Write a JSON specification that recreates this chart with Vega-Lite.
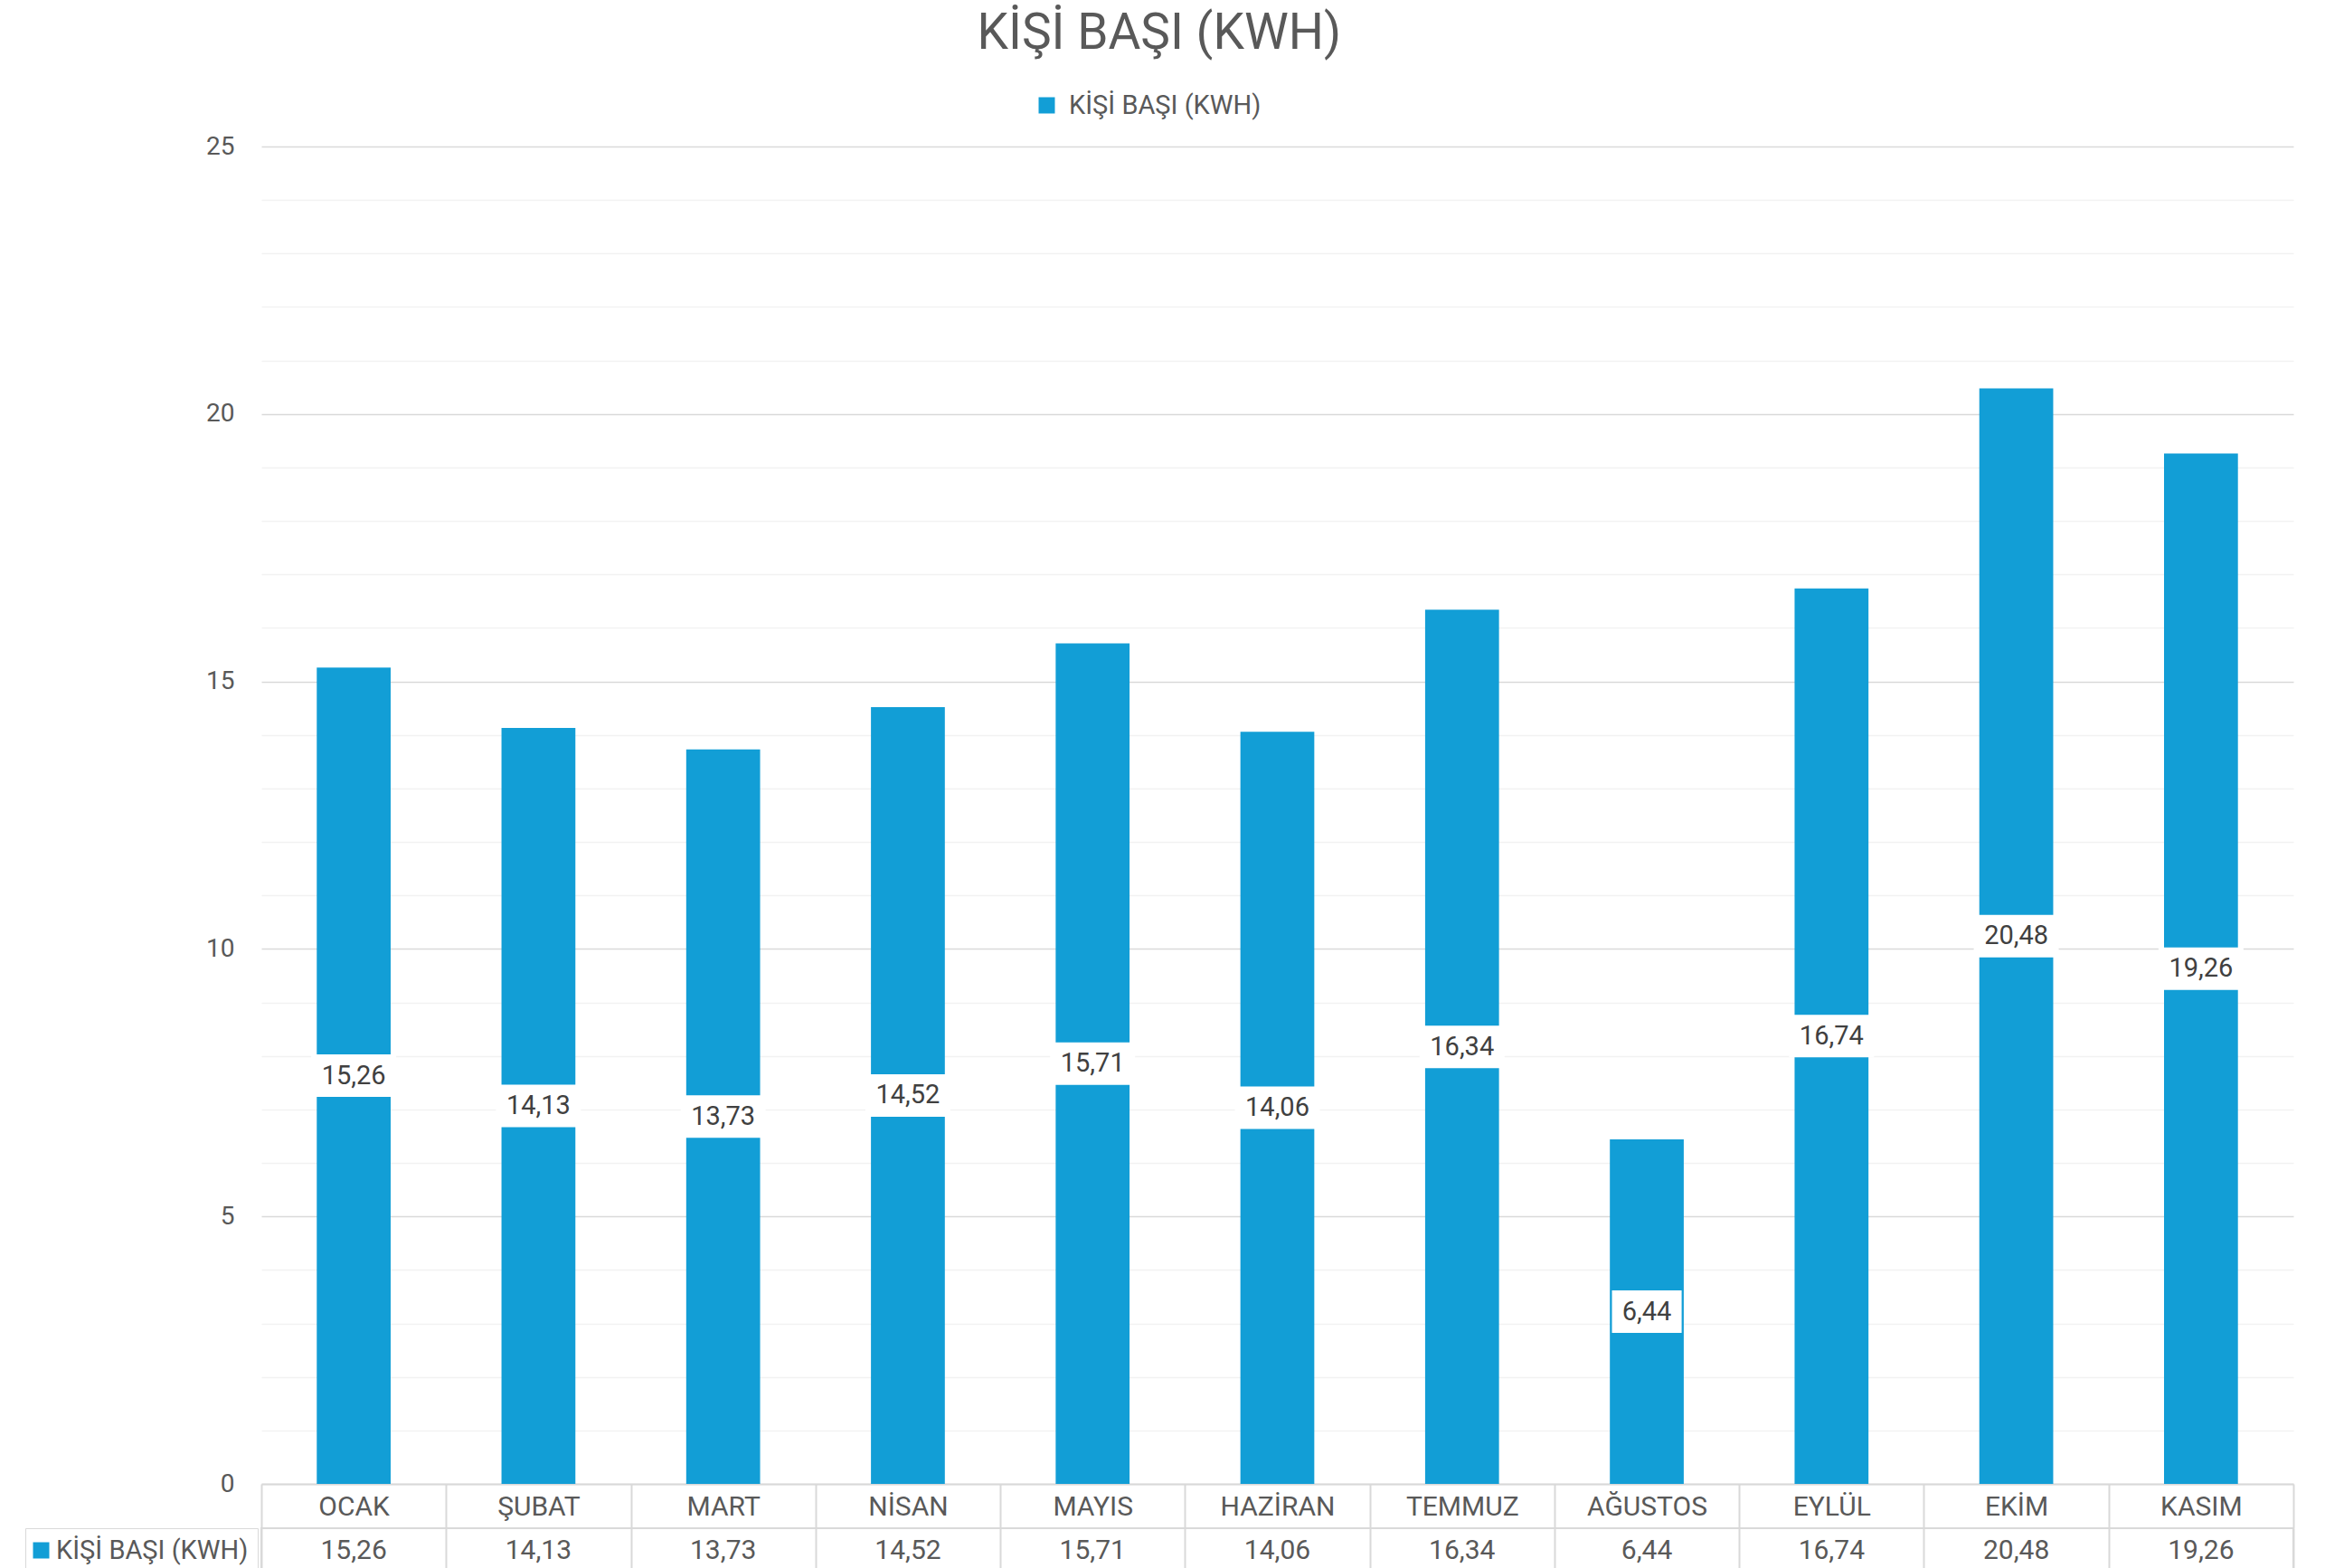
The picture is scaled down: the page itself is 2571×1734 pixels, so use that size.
{
  "$schema": "https://vega.github.io/schema/vega-lite/v6.json",
  "autosize": {"type": "pad"},
  "padding": {"left": 26, "top": 10, "right": 36, "bottom": 0},
  "background": "white",
  "title": {"text": "KİŞİ BAŞI (KWH)", "font": "Roboto", "fontSize": 55, "fontWeight": "normal", "color": "#595959", "anchor": "middle", "baseline": "alphabetic", "offset": -7},
  "data": {"values": [
    {"m": "OCAK", "v": 15.26, "s": "KİŞİ BAŞI (KWH)"},
    {"m": "ŞUBAT", "v": 14.13, "s": "KİŞİ BAŞI (KWH)"},
    {"m": "MART", "v": 13.73, "s": "KİŞİ BAŞI (KWH)"},
    {"m": "NİSAN", "v": 14.52, "s": "KİŞİ BAŞI (KWH)"},
    {"m": "MAYIS", "v": 15.71, "s": "KİŞİ BAŞI (KWH)"},
    {"m": "HAZİRAN", "v": 14.06, "s": "KİŞİ BAŞI (KWH)"},
    {"m": "TEMMUZ", "v": 16.34, "s": "KİŞİ BAŞI (KWH)"},
    {"m": "AĞUSTOS", "v": 6.44, "s": "KİŞİ BAŞI (KWH)"},
    {"m": "EYLÜL", "v": 16.74, "s": "KİŞİ BAŞI (KWH)"},
    {"m": "EKİM", "v": 20.48, "s": "KİŞİ BAŞI (KWH)"},
    {"m": "KASIM", "v": 19.26, "s": "KİŞİ BAŞI (KWH)"}
  ]},
  "spacing": 49,
  "bounds": "flush",
  "resolve": {"legend": {"color": "independent"}},
  "vconcat": [
    {
      "width": 2247,
      "height": 1479,
      "view": {"stroke": null},
      "encoding": {
        "x": {"field": "m", "type": "nominal", "sort": null,
          "scale": {"paddingInner": 0, "paddingOuter": 0},
          "axis": {"title": null, "labelAngle": 0, "labelFont": "Roboto", "labelFontSize": 30, "labelColor": "#595959", "labelBaseline": "middle", "labelPadding": -24, "domainColor": "#D9D9D9", "domainWidth": 2, "tickColor": "#D9D9D9", "tickWidth": 2, "tickSize": 49, "tickBand": "extent", "grid": false}}
      },
      "layer": [
        {
          "mark": {"type": "bar", "width": {"band": 0.4}},
          "encoding": {
            "y": {"field": "v", "type": "quantitative", "scale": {"domain": [0, 25], "nice": false},
              "axis": {"title": null, "values": [0,1,2,3,4,5,6,7,8,9,10,11,12,13,14,15,16,17,18,19,20,21,22,23,24,25],
                "labelExpr": "datum.value % 5 === 0 ? datum.label : ''", "labelOverlap": false, "labelFlush": false,
                "labelFont": "Roboto", "labelFontSize": 28, "labelColor": "#595959", "labelPadding": 30,
                "ticks": false, "domain": false, "grid": true, "gridWidth": 1.5,
                "gridColor": {"condition": {"test": "datum.value % 5 === 0", "value": "#D9D9D9"}, "value": "#F2F2F2"}}},
            "color": {"field": "s", "type": "nominal", "scale": {"range": ["#129ED6"]},
              "legend": {"title": null, "orient": "none", "legendX": 854, "legendY": -60, "padding": 0,
                "symbolType": "square", "symbolSize": 324, "symbolStrokeWidth": 0, "labelLimit": 400,
                "labelFont": "Roboto", "labelFontSize": 29, "labelColor": "#595959", "labelOffset": 10}}
          }
        },
        {
          "mark": {"type": "point", "filled": true, "color": "white", "opacity": 1, "strokeWidth": 0, "size": 8836},
          "encoding": {
            "y": {"field": "v", "type": "quantitative", "scale": {"domain": [0, 50], "nice": false}, "axis": null},
            "shape": {"condition": {"test": "datum.v < 10", "value": "M-0.82,-0.5H0.82V0.5H-0.82Z"}, "value": "M-1,-0.5H1V0.5H-1Z"}
          }
        },
        {
          "mark": {"type": "text", "font": "Roboto", "fontSize": 29, "color": "#404040", "baseline": "middle"},
          "encoding": {
            "y": {"field": "v", "type": "quantitative", "scale": {"domain": [0, 50], "nice": false}, "axis": null},
            "text": {"field": "v", "type": "quantitative", "format": ".2f"}
          }
        }
      ],
      "resolve": {"scale": {"y": "independent"}}
    },
    {
      "width": 2247,
      "height": 49,
      "view": {"stroke": "#D9D9D9", "strokeWidth": 2},
      "encoding": {
        "x": {"field": "m", "type": "nominal", "sort": null,
          "scale": {"paddingInner": 0, "paddingOuter": 0},
          "axis": {"title": null, "labels": false, "ticks": false, "domain": false, "grid": true, "tickBand": "extent", "gridColor": "#D9D9D9", "gridWidth": 2}}
      },
      "layer": [
        {
          "mark": {"type": "text", "font": "Roboto", "fontSize": 30, "color": "#595959", "baseline": "middle"},
          "encoding": {
            "text": {"field": "v", "type": "quantitative", "format": ".2f"}
          }
        },
        {
          "mark": {"type": "point", "filled": true, "size": 0},
          "encoding": {
            "color": {"field": "s", "type": "nominal", "scale": {"range": ["#129ED6"]},
              "legend": {"title": null, "orient": "none", "legendX": -261, "legendY": 0, "padding": 10,
                "strokeColor": "#D9D9D9", "labelLimit": 400, "symbolOffset": -7,
                "symbolType": "square", "symbolSize": 324, "symbolStrokeWidth": 0, "symbolOpacity": 1,
                "labelFont": "Roboto", "labelFontSize": 29, "labelColor": "#595959", "labelOffset": 2}}
          }
        }
      ]
    }
  ],
  "config": {
    "locale": {"number": {"decimal": ",", "thousands": ".", "grouping": [3], "currency": ["", " ₺"]}},
    "view": {"stroke": null}
  }
}
